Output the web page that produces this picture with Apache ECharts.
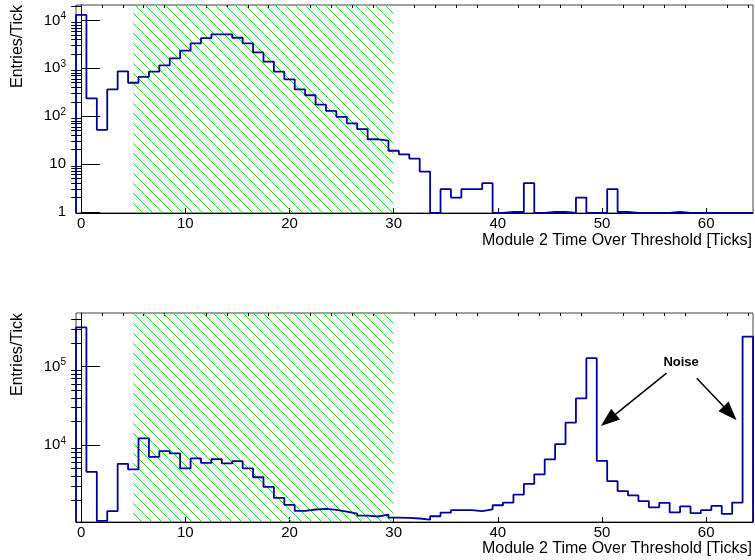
<!DOCTYPE html>
<html>
<head>
    <meta charset="utf-8">
    <title>Module 2 Time Over Threshold</title>
    <script src="https://cdn.jsdelivr.net/npm/echarts@6/dist/echarts.min.js"></script>
    <style>
        html, body { margin: 0; padding: 0; background: #fff; }
        #chart { width: 755px; height: 560px; }
    </style>
</head>
<body>
<div id="chart"></div>
<script type="text/javascript">
    // one entry per 1-tick bin, ToT = 0 .. 64
    var topCounts = [
        13000, 236, 52, 363, 865, 500, 660, 850, 1150, 1620,
        2340, 3320, 4290, 5130, 5100, 4350, 3320, 2150, 1380, 850,
        590, 363, 274, 174, 129, 97, 71, 54, 33, 31,
        19, 16, 13, 7, 0, 3, 2, 3, 3, 4,
        0, 1, 1, 4, 0, 1, 1, 0, 2, 0,
        0, 3, 1, 0, 0, 0, 0, 1, 0, 0,
        0, 0, 0, 0, 0
    ];
    var bottomCounts = [
        315000, 4560, 1080, 1440, 5770, 4890, 12200, 7090, 8380, 7830,
        5040, 6760, 5940, 6620, 5830, 6250, 5040, 3890, 2930, 2120,
        1730, 1450, 1510, 1540, 1490, 1420, 1340, 1260, 1230, 1300,
        1190, 1180, 1160, 1120, 1240, 1380, 1480, 1480, 1440, 1520,
        1710, 1850, 2340, 3200, 4230, 6560, 10300, 19300, 39400, 128000,
        6300, 3470, 2590, 2280, 1930, 1610, 1830, 1390, 1660, 1360,
        1480, 1680, 1330, 1850, 241000
    ];
    var xTicks = [0, 10, 20, 30, 40, 50, 60];
    var xMinorTicks = [2, 4, 6, 8, 12, 14, 16, 18, 22, 24, 26, 28, 32, 34, 36, 38,
        42, 44, 46, 48, 52, 54, 56, 58, 62, 64];
    var topYTicks = [1, 10, 100, 1000, 10000];
    var bottomYTicks = [10000, 100000];
    var signalWindow = [5, 30];
    var noiseArrows = [
        [[56.2, 82400], [50.6, 20800]],
        [[59.1, 71100], [62.3, 25400]]
    ];
    var noiseLabel = [57.6, 113800];

    var xMin = -0.5, xMax = 64.5;
    var topYMin = 0.953, topYMax = 21000;
    var bottomYMin = 1047, bottomYMax = 481000;
    var FONT = '"Liberation Sans", Arial, sans-serif';

    // minor log ticks 2..9 x 10^k inside [lo, hi]
    function logMinor(lo, hi) {
        var out = [];
        for (var k = -1; k <= 6; k++) {
            for (var d = 2; d <= 9; d++) {
                var v = d * Math.pow(10, k);
                if (v > lo && v < hi) out.push(v);
            }
        }
        return out;
    }

    // histogram outline: flat top over each bin, empty bins sit on the floor
    function steps(counts, floor) {
        var pts = [[xMin, floor]];
        counts.forEach(function (c, i) {
            var v = c > 0 ? c : floor;
            pts.push([i - 0.5, v], [i + 0.5, v]);
        });
        pts.push([counts.length - 0.5, floor]);
        return pts;
    }

    function powLabel(v) {
        var e = Math.round(Math.log10(v));
        if (e === 0) return '1';
        if (e === 1) return '10';
        return '{b|10}{s|' + e + '}';
    }

    // green hatch for the 5-30 window
    var hatch = document.createElement('canvas');
    hatch.width = 10;
    hatch.height = 10;
    var hc = hatch.getContext('2d');
    hc.strokeStyle = '#22dd22';
    hc.lineWidth = 1;
    hc.beginPath();
    hc.moveTo(-1, -1); hc.lineTo(11, 11);
    hc.moveTo(-1, 9); hc.lineTo(1, 11);
    hc.moveTo(9, -1); hc.lineTo(11, 1);
    hc.stroke();
    var hatchColor = { image: hatch, repeat: 'repeat' };

    function xAxes(grid) {
        return [{
            type: 'value', gridIndex: grid, min: xMin, max: xMax,
            axisLine: { onZero: false, lineStyle: { color: '#000', width: 1 } },
            axisTick: { inside: true, length: 5, customValues: xTicks, lineStyle: { color: '#000' } },
            axisLabel: { customValues: xTicks, margin: 3, fontSize: 15, color: '#000', fontFamily: FONT },
            splitLine: { show: false }
        }, {
            type: 'value', gridIndex: grid, min: xMin, max: xMax,
            axisLine: { show: false },
            axisTick: { inside: true, length: 3, customValues: xMinorTicks, lineStyle: { color: '#000' } },
            axisLabel: { show: false },
            splitLine: { show: false }
        }];
    }

    function yAxes(grid, lo, hi, major) {
        return [{
            type: 'log', gridIndex: grid, min: lo, max: hi,
            axisLine: { show: true, lineStyle: { color: '#000', width: 1 } },
            axisTick: { show: true, inside: true, length: 19, customValues: major, lineStyle: { color: '#000' } },
            axisLabel: {
                customValues: major, margin: 10, color: '#000', fontFamily: FONT, fontSize: 15,
                formatter: powLabel,
                rich: {
                    b: { fontSize: 15, fontFamily: FONT, color: '#000' },
                    s: { fontSize: 10, fontFamily: FONT, color: '#000', padding: [0, 0, 8, 0] }
                }
            },
            splitLine: { show: false }
        }, {
            type: 'log', gridIndex: grid, min: lo, max: hi,
            axisLine: { show: false },
            axisTick: { show: true, inside: true, length: 10, customValues: logMinor(lo, hi), lineStyle: { color: '#000' } },
            axisLabel: { show: false },
            splitLine: { show: false }
        }];
    }

    var histLine = { color: '#000099', width: 1.8 };
    var titleFont = '16px ' + FONT;

    var myChart = echarts.init(document.getElementById('chart'), null, { renderer: 'canvas' });
    myChart.setOption({
        animation: false,
        backgroundColor: '#fff',
        textStyle: { fontFamily: FONT },
        grid: [
            { left: 76, top: 5, width: 677, height: 208, show: true, borderColor: '#444', borderWidth: 1, outerBoundsMode: 'none' },
            { left: 76, top: 313, width: 677, height: 209, show: true, borderColor: '#444', borderWidth: 1, outerBoundsMode: 'none' }
        ],
        xAxis: xAxes(0).concat(xAxes(1)),
        yAxis: yAxes(0, topYMin, topYMax, topYTicks).concat(yAxes(1, bottomYMin, bottomYMax, bottomYTicks)),
        graphic: [
            { type: 'text', x: 18, y: 5, rotation: Math.PI / 2,
              style: { text: 'Entries/Tick', font: titleFont, fill: '#000', align: 'right', verticalAlign: 'middle' } },
            { type: 'text', x: 18, y: 313, rotation: Math.PI / 2,
              style: { text: 'Entries/Tick', font: titleFont, fill: '#000', align: 'right', verticalAlign: 'middle' } },
            { type: 'text', x: 752, y: 241,
              style: { text: 'Module 2 Time Over Threshold [Ticks]', font: titleFont, fill: '#000', align: 'right', verticalAlign: 'middle' } },
            { type: 'text', x: 752, y: 549,
              style: { text: 'Module 2 Time Over Threshold [Ticks]', font: titleFont, fill: '#000', align: 'right', verticalAlign: 'middle' } }
        ],
        series: [
            {
                name: 'top', type: 'line', xAxisIndex: 0, yAxisIndex: 0,
                data: steps(topCounts, topYMin), symbol: 'none', lineStyle: histLine, z: 3,
                markArea: {
                    silent: true,
                    itemStyle: { color: hatchColor },
                    data: [[{ xAxis: signalWindow[0], yAxis: topYMin }, { xAxis: signalWindow[1], yAxis: topYMax }]]
                }
            },
            {
                name: 'bottom', type: 'line', xAxisIndex: 2, yAxisIndex: 2,
                data: steps(bottomCounts, bottomYMin), symbol: 'none', lineStyle: histLine, z: 3,
                markArea: {
                    silent: true,
                    itemStyle: { color: hatchColor },
                    data: [[{ xAxis: signalWindow[0], yAxis: bottomYMin }, { xAxis: signalWindow[1], yAxis: bottomYMax }]]
                },
                markLine: {
                    silent: true,
                    symbol: ['none', 'triangle'],
                    symbolSize: [14, 19],
                    label: { show: false },
                    lineStyle: { color: '#000', width: 1.5, type: 'solid' },
                    data: noiseArrows.map(function (a) {
                        return [{ coord: a[0] }, { coord: a[1] }];
                    })
                },
                markPoint: {
                    silent: true,
                    symbol: 'circle', symbolSize: 1,
                    itemStyle: { color: 'rgba(0,0,0,0)' },
                    label: { show: true, position: 'inside', formatter: 'Noise', color: '#000', fontWeight: 'bold', fontSize: 13, fontFamily: FONT },
                    data: [{ coord: noiseLabel }]
                }
            }
        ]
    });
</script>
</body>
</html>
